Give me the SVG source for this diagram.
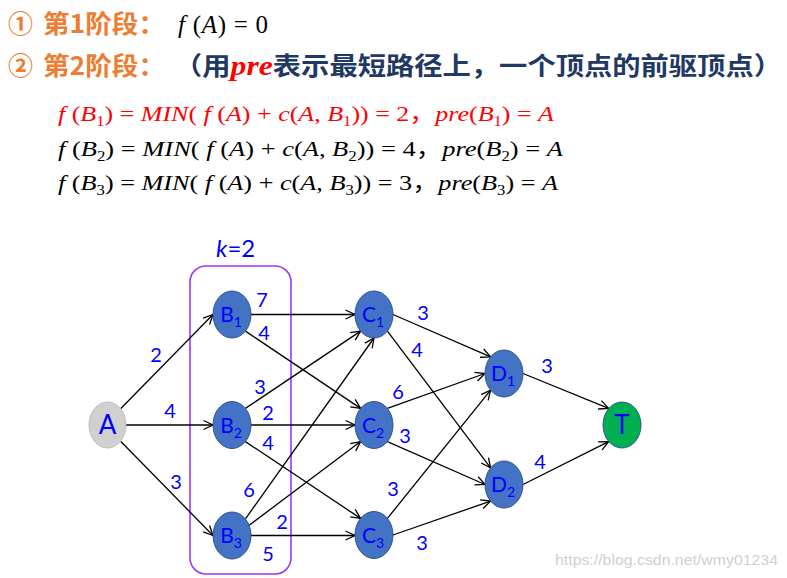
<svg xmlns="http://www.w3.org/2000/svg" width="787" height="578" viewBox="0 0 787 578">
<defs>
<style>
.hd{font-family:"Noto Sans CJK SC","Noto Sans",sans-serif;font-weight:bold;fill:#ED7D31;font-size:25px}
.nv{font-family:"Noto Sans CJK SC","Noto Sans",sans-serif;font-weight:bold;fill:#1F3864;font-size:25px}
.pre{font-family:"Liberation Serif",serif;font-style:italic;font-weight:bold;fill:#FF0000;font-size:28px}
.fm{font-family:"Liberation Serif","Noto Sans CJK SC",serif;font-size:22px}
.i{font-style:italic}
.red{fill:#FF0000}
.blk{fill:#000}
.node{fill:#4472C4;stroke:#2F528F;stroke-width:1}
.nl{font-family:Lato,"Liberation Sans",sans-serif;font-size:21px;fill:#0000FF;text-anchor:middle}
.big{font-size:26px}
.sub{font-size:14px}
.el{font-family:Lato,"Liberation Sans",sans-serif;font-size:20px;fill:#0000FF;text-anchor:middle}
.edge line{stroke:#000;stroke-width:1.3;marker-end:url(#arr)}
</style>
<marker id="arr" viewBox="0 0 12 12" refX="11" refY="6" markerWidth="12" markerHeight="12" markerUnits="userSpaceOnUse" orient="auto">
<path d="M1.5,1.5 L11,6 L1.5,10.5" fill="none" stroke="#000" stroke-width="1.3"/>
</marker>
</defs>
<rect width="787" height="578" fill="#FFFFFF"/>

<g id="header">
<text class="hd" x="8" y="33">①</text>
<text class="hd" x="43" y="33" textLength="122" lengthAdjust="spacingAndGlyphs">第1阶段：</text>
<text x="178" y="33" font-family="Liberation Serif,serif" font-size="25" textLength="90" lengthAdjust="spacing"><tspan font-style="italic">f</tspan> (<tspan font-style="italic">A</tspan>) = 0</text>
<text class="hd" x="8" y="75">②</text>
<text class="hd" x="43" y="75" textLength="122" lengthAdjust="spacingAndGlyphs">第2阶段：</text>
<text class="nv" x="174" y="75" textLength="608" lengthAdjust="spacingAndGlyphs">（用<tspan class="pre">pre</tspan>表示最短路径上，一个顶点的前驱顶点）</text>
</g>

<g id="formulas">
<text class="fm red" x="58" y="121" textLength="496" lengthAdjust="spacingAndGlyphs"><tspan class="i">f</tspan> (<tspan class="i">B</tspan><tspan class="sub" dy="5">1</tspan><tspan dy="-5">) = </tspan><tspan class="i">MIN</tspan>( <tspan class="i">f</tspan> (<tspan class="i">A</tspan>) + <tspan class="i">c</tspan>(<tspan class="i">A</tspan>, <tspan class="i">B</tspan><tspan class="sub" dy="5">1</tspan><tspan dy="-5">)) = 2，</tspan><tspan class="i">pre</tspan>(<tspan class="i">B</tspan><tspan class="sub" dy="5">1</tspan><tspan dy="-5">) = </tspan><tspan class="i">A</tspan></text>
<text class="fm blk" x="58" y="156" textLength="505" lengthAdjust="spacingAndGlyphs"><tspan class="i">f</tspan> (<tspan class="i">B</tspan><tspan class="sub" dy="5">2</tspan><tspan dy="-5">) = </tspan><tspan class="i">MIN</tspan>( <tspan class="i">f</tspan> (<tspan class="i">A</tspan>) + <tspan class="i">c</tspan>(<tspan class="i">A</tspan>, <tspan class="i">B</tspan><tspan class="sub" dy="5">2</tspan><tspan dy="-5">)) = 4，</tspan><tspan class="i">pre</tspan>(<tspan class="i">B</tspan><tspan class="sub" dy="5">2</tspan><tspan dy="-5">) = </tspan><tspan class="i">A</tspan></text>
<text class="fm blk" x="58" y="190" textLength="500" lengthAdjust="spacingAndGlyphs"><tspan class="i">f</tspan> (<tspan class="i">B</tspan><tspan class="sub" dy="5">3</tspan><tspan dy="-5">) = </tspan><tspan class="i">MIN</tspan>( <tspan class="i">f</tspan> (<tspan class="i">A</tspan>) + <tspan class="i">c</tspan>(<tspan class="i">A</tspan>, <tspan class="i">B</tspan><tspan class="sub" dy="5">3</tspan><tspan dy="-5">)) = 3，</tspan><tspan class="i">pre</tspan>(<tspan class="i">B</tspan><tspan class="sub" dy="5">3</tspan><tspan dy="-5">) = </tspan><tspan class="i">A</tspan></text>
</g>

<g id="stage-box">
<rect x="190" y="266" width="101" height="308" rx="16" fill="none" stroke="#A033FF" stroke-width="1.6"/>
<text x="216" y="257" font-family="Lato,Liberation Sans,sans-serif" font-size="24" fill="#0000FF"><tspan font-style="italic">k</tspan>=2</text>
</g>

<g id="connectors" class="edge">
<line x1="120.6" y1="408.7" x2="213" y2="314.5"/>
<line x1="126" y1="425" x2="213" y2="425"/>
<line x1="120.6" y1="441.3" x2="213" y2="535.5"/>
<line x1="251" y1="314.5" x2="355" y2="314.5"/>
<line x1="245.4" y1="331.1" x2="360.6" y2="408.4"/>
<line x1="245.4" y1="408.4" x2="360.6" y2="331.1"/>
<line x1="251" y1="425" x2="355" y2="425"/>
<line x1="245.4" y1="441.6" x2="360.6" y2="518.4"/>
<line x1="245.4" y1="518.9" x2="374" y2="338"/>
<line x1="245.5" y1="528" x2="360.6" y2="441.6"/>
<line x1="251" y1="535.5" x2="355" y2="535.5"/>
<line x1="393" y1="314.5" x2="490.6" y2="356.9"/>
<line x1="387.4" y1="331.1" x2="490.6" y2="467.9"/>
<line x1="387.4" y1="408.4" x2="485" y2="373.5"/>
<line x1="387.4" y1="441.6" x2="485" y2="484.5"/>
<line x1="387.4" y1="518.4" x2="490.6" y2="390.1"/>
<line x1="393" y1="535" x2="490.6" y2="501.1"/>
<line x1="523" y1="373.5" x2="608.6" y2="408.4"/>
<line x1="523" y1="484.5" x2="608.6" y2="441.6"/>
</g>

<g id="edge-labels">
<text class="el" x="156" y="362">2</text>
<text class="el" x="170" y="418">4</text>
<text class="el" x="176" y="489">3</text>
<text class="el" x="262" y="307">7</text>
<text class="el" x="264" y="340">4</text>
<text class="el" x="260" y="394">3</text>
<text class="el" x="268" y="420">2</text>
<text class="el" x="268" y="450">4</text>
<text class="el" x="249" y="497">6</text>
<text class="el" x="282" y="529">2</text>
<text class="el" x="268" y="561">5</text>
<text class="el" x="423" y="320">3</text>
<text class="el" x="417" y="357">4</text>
<text class="el" x="398" y="399">6</text>
<text class="el" x="405" y="443">3</text>
<text class="el" x="393" y="496">3</text>
<text class="el" x="422" y="550">3</text>
<text class="el" x="547" y="373">3</text>
<text class="el" x="540" y="469">4</text>
</g>

<g id="A"><ellipse cx="107.5" cy="425" rx="18.5" ry="23" fill="#D0D0D0" stroke="#BFBFBF"/><text class="nl big" x="107.5" y="434">A</text></g>
<g id="B1"><ellipse class="node" cx="232" cy="314.5" rx="19" ry="23.5"/><text class="nl" x="231" y="322">B<tspan class="sub" dy="5">1</tspan></text></g>
<g id="B2"><ellipse class="node" cx="232" cy="425" rx="19" ry="23.5"/><text class="nl" x="231" y="432.5">B<tspan class="sub" dy="5">2</tspan></text></g>
<g id="B3"><ellipse class="node" cx="232" cy="535.5" rx="19" ry="23.5"/><text class="nl" x="231" y="543">B<tspan class="sub" dy="5">3</tspan></text></g>
<g id="C1"><ellipse class="node" cx="374" cy="314.5" rx="19" ry="23.5"/><text class="nl" x="373" y="322">C<tspan class="sub" dy="5">1</tspan></text></g>
<g id="C2"><ellipse class="node" cx="374" cy="425" rx="19" ry="23.5"/><text class="nl" x="373" y="432.5">C<tspan class="sub" dy="5">2</tspan></text></g>
<g id="C3"><ellipse class="node" cx="374" cy="535" rx="19" ry="23.5"/><text class="nl" x="373" y="542.5">C<tspan class="sub" dy="5">3</tspan></text></g>
<g id="D1"><ellipse class="node" cx="504" cy="373.5" rx="19" ry="23.5"/><text class="nl" x="503" y="381">D<tspan class="sub" dy="5">1</tspan></text></g>
<g id="D2"><ellipse class="node" cx="504" cy="484.5" rx="19" ry="23.5"/><text class="nl" x="503" y="492">D<tspan class="sub" dy="5">2</tspan></text></g>
<g id="T"><ellipse cx="622" cy="425" rx="19" ry="23" fill="#00B050" stroke="#2F528F"/><text class="nl big" x="622" y="434">T</text></g>

<text x="555" y="565" font-family="Liberation Sans,Arial,sans-serif" font-size="14.5" fill="#D0D0D0" textLength="223" lengthAdjust="spacingAndGlyphs">https://blog.csdn.net/wmy01234</text>
</svg>
